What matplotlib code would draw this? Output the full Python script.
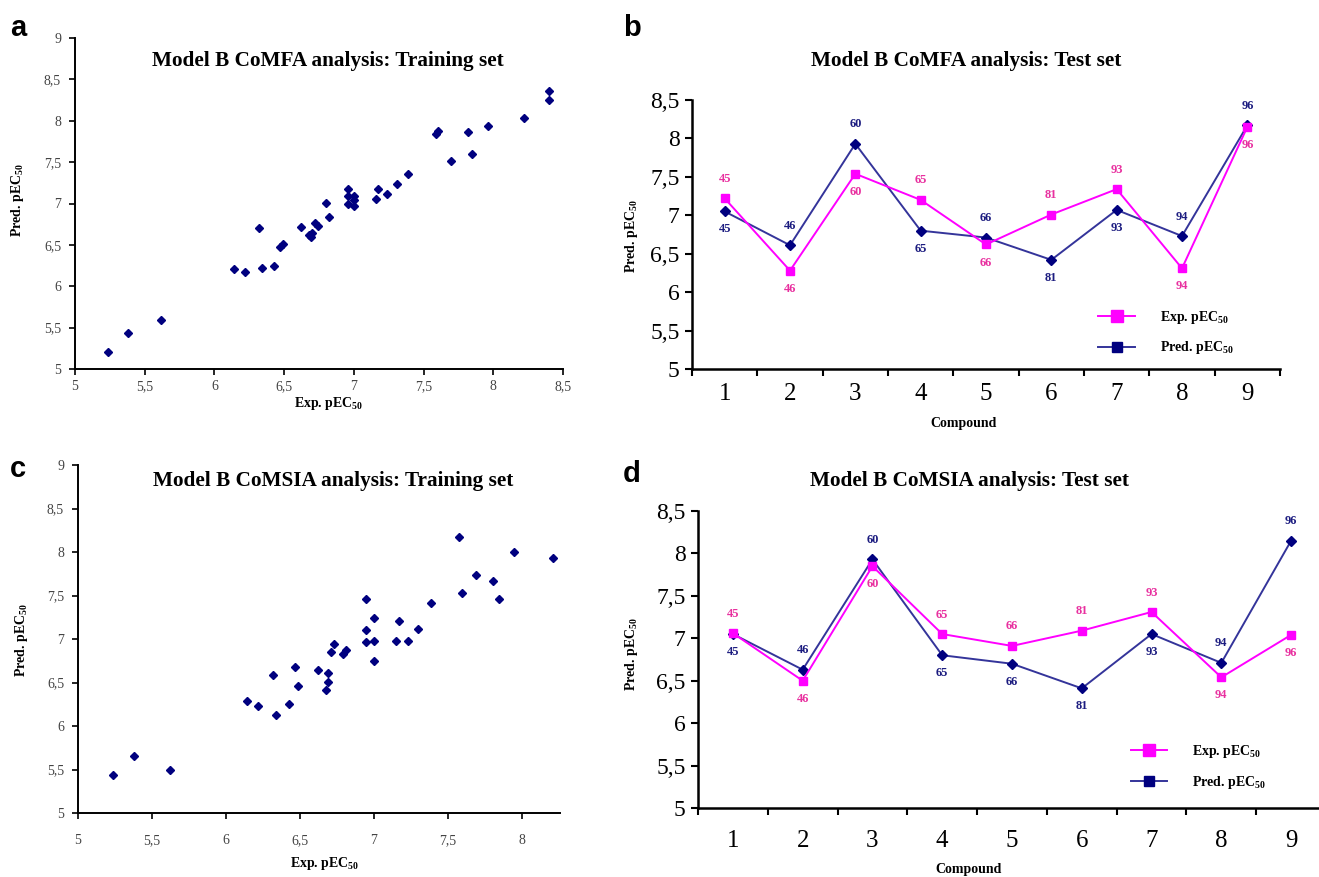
import matplotlib
matplotlib.use("Agg")
import matplotlib.pyplot as plt

plt.rcParams["font.family"] = ["Liberation Serif", "DejaVu Serif"]
plt.rcParams["mathtext.fontset"] = "custom"
plt.rcParams["mathtext.rm"] = "Liberation Serif:bold"
plt.rcParams["mathtext.default"] = "rm"

# ---- data ----
comfa_train_exp = [5.24, 5.38, 5.62, 6.14, 6.22, 6.32, 6.34, 6.43, 6.47, 6.49,
                   6.62, 6.68, 6.69, 6.70, 6.72, 6.74, 6.80, 6.82, 6.96, 6.96,
                   6.96, 7.00, 7.00, 7.00, 7.16, 7.17, 7.24, 7.31, 7.39, 7.59,
                   7.60, 7.70, 7.82, 7.85, 7.96, 8.22, 8.40, 8.40]
comfa_train_pred = [5.21, 5.43, 5.59, 6.21, 6.17, 6.70, 6.22, 6.24, 6.48, 6.51,
                    6.71, 6.62, 6.59, 6.645, 6.765, 6.73, 7.005, 6.84, 7.17, 7.09,
                    7.00, 7.09, 7.04, 6.97, 7.05, 7.18, 7.12, 7.24, 7.36, 7.84,
                    7.88, 7.51, 7.86, 7.60, 7.94, 8.03, 8.36, 8.25]

comsia_train_exp = [5.24, 5.38, 5.62, 6.14, 6.22, 6.32, 6.34, 6.43, 6.47, 6.49,
                    6.62, 6.68, 6.69, 6.69, 6.71, 6.73, 6.79, 6.81, 6.95, 6.95,
                    6.95, 7.00, 7.00, 7.00, 7.15, 7.17, 7.23, 7.30, 7.39, 7.58,
                    7.60, 7.69, 7.81, 7.85, 7.95, 8.21]
comsia_train_pred = [5.44, 5.66, 5.49, 6.29, 6.23, 6.59, 6.13, 6.25, 6.68, 6.46,
                     6.64, 6.41, 6.51, 6.61, 6.85, 6.94, 6.83, 6.87, 7.46, 7.10,
                     6.97, 7.24, 6.98, 6.75, 6.98, 7.21, 6.98, 7.12, 7.41, 8.17,
                     7.53, 7.73, 7.67, 7.46, 8.00, 7.93]

compound = [1, 2, 3, 4, 5, 6, 7, 8, 9]
compound_ids = ["45", "46", "60", "65", "66", "81", "93", "94", "96"]

comfa_test_exp = [7.22, 6.28, 7.54, 7.20, 6.62, 7.01, 7.34, 6.31, 8.15]
comfa_test_pred = [7.05, 6.61, 7.93, 6.80, 6.71, 6.42, 7.07, 6.73, 8.17]

comsia_test_exp = [7.06, 6.50, 7.85, 7.05, 6.91, 7.09, 7.31, 6.54, 7.04]
comsia_test_pred = [7.05, 6.63, 7.93, 6.80, 6.70, 6.41, 7.05, 6.71, 8.15]

NAVY = "#00007f"
NAVY_LINE = "#34349a"
NAVY_TXT = "#1c1c80"
MAGENTA = "#ff00ff"
PINK_TXT = "#e8309f"

W, H = 1319, 877
fig = plt.figure(figsize=(W / 100, H / 100), dpi=100)


def box(x0, x1, ytop, ybot):
    return [x0 / W, 1 - ybot / H, (x1 - x0) / W, (ybot - ytop) / H]


def scatter_panel(rect, xs, ys, xmax, xticks, xpad):
    ax = fig.add_axes(rect)
    ax.plot(xs, ys, "D", color=NAVY, ms=4, mec=NAVY)
    ax.set_xlim(5, xmax)
    ax.set_ylim(5, 9)
    ax.set_xticks(xticks)
    ax.set_xticklabels([f"{t:g}".replace(".", ",") for t in xticks])
    yt = [5, 5.5, 6, 6.5, 7, 7.5, 8, 8.5, 9]
    ax.set_yticks(yt)
    ax.set_yticklabels([f"{t:g}".replace(".", ",") for t in yt])
    for s in ["top", "right"]:
        ax.spines[s].set_visible(False)
    for s in ["left", "bottom"]:
        ax.spines[s].set_linewidth(1.4)
    ax.tick_params(labelsize=10, labelcolor="#444444", length=4, width=1.2,
                   direction="out", pad=6)
    ax.tick_params(axis="x", pad=xpad)
    return ax


def line_panel(rect, exp, pred, leg_loc, xpad):
    ax = fig.add_axes(rect)
    ax.plot(compound, pred, "-D", color=NAVY_LINE, mfc=NAVY, mec=NAVY,
            ms=5, lw=1.4, label="Pred. pEC$_{50}$")
    ax.plot(compound, exp, "-s", color=MAGENTA, mfc=MAGENTA, mec=MAGENTA,
            ms=6, lw=1.4, label="Exp. pEC$_{50}$")
    for x, e, p, lab in zip(compound, exp, pred, compound_ids):
        up_e = e >= p
        ax.annotate(lab, (x, e), xytext=(0, 14 if up_e else -13),
                    textcoords="offset points", ha="center", va="center",
                    fontsize=9, fontweight="bold", color=PINK_TXT)
        ax.annotate(lab, (x, p), xytext=(0, -13 if up_e else 14),
                    textcoords="offset points", ha="center", va="center",
                    fontsize=9, fontweight="bold", color=NAVY_TXT)
    ax.set_xlim(0.5, 9.5)
    ax.set_ylim(5, 8.5)
    ax.set_xticks([i + 0.5 for i in range(10)])
    ax.set_xticks(compound, minor=True)
    ax.set_xticklabels([])
    ax.set_xticklabels([str(c) for c in compound], minor=True)
    yt = [5, 5.5, 6, 6.5, 7, 7.5, 8, 8.5]
    ax.set_yticks(yt)
    ax.set_yticklabels([f"{t:g}".replace(".", ",") for t in yt])
    for s in ["top", "right"]:
        ax.spines[s].set_visible(False)
    for s in ["left", "bottom"]:
        ax.spines[s].set_linewidth(1.8)
    ax.tick_params(axis="y", labelsize=17, length=5, width=1.5, pad=4)
    ax.tick_params(axis="x", which="major", length=5, width=1.5)
    ax.tick_params(axis="x", which="minor", length=0, labelsize=18, pad=xpad)
    h, l = ax.get_legend_handles_labels()
    leg = ax.legend([h[1], h[0]], [l[1], l[0]], loc="lower left",
                    bbox_to_anchor=leg_loc, frameon=False,
                    prop={"weight": "bold", "size": 10}, labelspacing=1.0,
                    handlelength=2.6, handletextpad=1.8, markerscale=1.5)
    for lh in leg.legend_handles:
        lh.set_marker("s")
    return ax


ax_a = scatter_panel(box(75, 563, 38, 369), comfa_train_exp, comfa_train_pred,
                     8.5, [5, 5.5, 6, 6.5, 7, 7.5, 8, 8.5], 4)
ax_c = scatter_panel(box(78, 560, 465, 813), comsia_train_exp, comsia_train_pred,
                     8.26, [5, 5.5, 6, 6.5, 7, 7.5, 8], 11)
ax_b = line_panel(box(692, 1280, 100, 369), comfa_test_exp, comfa_test_pred,
                  (0.67, 0.0), 10)
ax_d = line_panel(box(698, 1326, 511, 808), comsia_test_exp, comsia_test_pred,
                  (0.67, 0.016), 16)

# titles, axis labels, panel letters
def ftext(x, y, s, **kw):
    fig.text(x / W, 1 - y / H, s, ha="center", va="center", **kw)

ftext(328, 61, "Model B CoMFA analysis: Training set", fontsize=15.3, fontweight="bold")
ftext(966, 61, "Model B CoMFA analysis: Test set", fontsize=15.3, fontweight="bold")
ftext(333, 481, "Model B CoMSIA analysis: Training set", fontsize=15.3, fontweight="bold")
ftext(969, 481, "Model B CoMSIA analysis: Test set", fontsize=15.3, fontweight="bold")

ftext(329, 404, "Exp. pEC$_{50}$", fontsize=10, fontweight="bold")
ftext(325, 864, "Exp. pEC$_{50}$", fontsize=10, fontweight="bold")
ftext(964, 424, "Compound", fontsize=10, fontweight="bold")
ftext(969, 869, "Compound", fontsize=10, fontweight="bold")

ftext(18, 200, "Pred. pEC$_{50}$", fontsize=10, fontweight="bold", rotation=90)
ftext(22, 640, "Pred. pEC$_{50}$", fontsize=10, fontweight="bold", rotation=90)
ftext(632, 236, "Pred. pEC$_{50}$", fontsize=10, fontweight="bold", rotation=90)
ftext(632, 654, "Pred. pEC$_{50}$", fontsize=10, fontweight="bold", rotation=90)

for x, y, s in [(18, 28, "a"), (632, 28, "b"), (18, 469, "c"), (632, 474, "d")]:
    fig.text(x / W, 1 - y / H, s, ha="center", va="center", fontsize=21,
             fontweight="bold", family=["Liberation Sans", "DejaVu Sans"])

fig.savefig("out.png", dpi=100)
